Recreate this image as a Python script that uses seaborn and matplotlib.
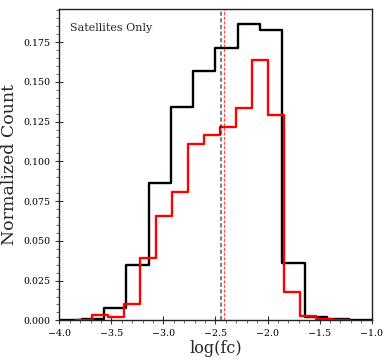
import numpy as np
import pandas as pd
import matplotlib
matplotlib.use("Agg")
import matplotlib.pyplot as plt
import seaborn as sns
from matplotlib.ticker import MultipleLocator

# ---- data ----
black_edges = [-4.0, -3.786, -3.571, -3.357, -3.143, -2.929, -2.714, -2.5,
               -2.286, -2.071, -1.857, -1.643, -1.429, -1.214, -1.0]
black_counts = [0.0, 0.0007, 0.0077, 0.0347, 0.0862, 0.1340, 0.1566, 0.1715,
                0.1861, 0.1828, 0.0358, 0.0023, 0.0008, 0.0002]

red_edges = [-3.843, -3.689, -3.535, -3.381, -3.226, -3.072, -2.918, -2.764,
             -2.610, -2.455, -2.301, -2.147, -1.993, -1.839, -1.685, -1.531,
             -1.376, -1.222]
red_counts = [0.0, 0.0035, 0.0020, 0.0102, 0.0393, 0.0655, 0.0808, 0.1107,
              0.1166, 0.1214, 0.1338, 0.1635, 0.1291, 0.0180, 0.0030, 0.0006,
              0.0]

black_median = -2.447
red_median = -2.418

label_text = "Satellites Only"
xlabel = "log(fc)"
ylabel = "Normalized Count"

# ---- plot ----
sns.set_style("ticks")
plt.rcParams['font.family'] = ['DejaVu Serif']
plt.rcParams['mathtext.fontset'] = 'dejavuserif'

fig = plt.figure(figsize=(3.9, 3.62), dpi=100)
ax = fig.add_axes([0.152, 0.115, 0.801, 0.859])

def centers(edges):
    e = np.asarray(edges)
    return (e[:-1] + e[1:]) / 2

dfb = pd.DataFrame({"x": centers(black_edges), "w": black_counts})
dfr = pd.DataFrame({"x": centers(red_edges), "w": red_counts})

sns.histplot(data=dfb, x="x", weights="w", bins=black_edges, element="step",
             fill=False, color="black", linewidth=1.7, ax=ax)
sns.histplot(data=dfr, x="x", weights="w", bins=red_edges, element="step",
             fill=False, color="red", linewidth=1.7, ax=ax)

ax.axvline(black_median, color="black", alpha=0.5, linestyle=(0, (2.2, 1.2)),
           linewidth=1.4)
ax.axvline(red_median, color="red", alpha=0.7, linestyle=(0, (2.5, 1.2)),
           linewidth=0.9)

ax.set_xlim(-4.0, -1.0)
ax.set_ylim(0, 0.1955)
ax.xaxis.set_major_locator(MultipleLocator(0.5))
ax.xaxis.set_minor_locator(MultipleLocator(0.1))
ax.yaxis.set_major_locator(MultipleLocator(0.025))
ax.yaxis.set_minor_locator(MultipleLocator(0.005))
ax.tick_params(which="major", direction="inout", length=6, width=0.8,
               labelsize=6.8, colors="#333333", labelcolor="black")
ax.tick_params(which="minor", direction="out", length=2.5, width=0.6,
               colors="#555555")
ax.yaxis.set_major_formatter(matplotlib.ticker.FormatStrFormatter("%.3f"))

for s in ax.spines.values():
    s.set_color("#222222")
    s.set_linewidth(1.0)

ax.set_xlabel(xlabel, fontsize=11.5, labelpad=1)
ax.set_ylabel(ylabel, fontsize=12.5, labelpad=4)
ax.text(0.035, 0.955, label_text, transform=ax.transAxes, fontsize=8,
        ha="left", va="top")

fig.savefig("out.png", dpi=100)
